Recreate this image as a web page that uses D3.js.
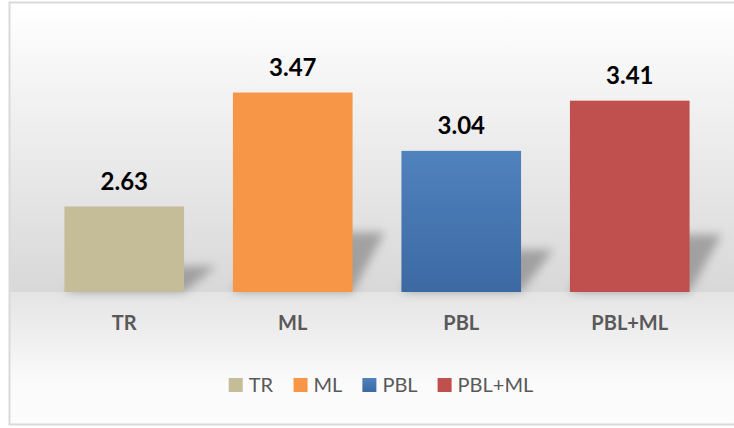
<!DOCTYPE html>
<html>
<head>
<meta charset="utf-8">
<script src="https://cdn.jsdelivr.net/npm/d3@7"></script>
<style>
  html, body { margin: 0; padding: 0; background: #ffffff; }
  svg { display: block; }
</style>
</head>
<body>
<svg id="chart" width="734" height="428"></svg>
<script>
// Chart data
const categories = ["TR", "ML", "PBL", "PBL+ML"];
const values = [2.63, 3.47, 3.04, 3.41];
const barColors = ["#c4bd97", "#f79646", "#4f81bd", "#c0504d"];
const valueDomain = [2, 4];

const W = 734, H = 428;
const baseY = 292;
const svg = d3.select("#chart");
const defs = svg.append("defs");

// Background gradients: plot area darkens downward, strip below is lighter
const gTop = defs.append("linearGradient").attr("id", "bgTop")
  .attr("x1", 0).attr("y1", 0).attr("x2", 0).attr("y2", 1);
gTop.append("stop").attr("offset", "0%").attr("stop-color", "#ffffff");
gTop.append("stop").attr("offset", "100%").attr("stop-color", "#d8d8d8");

const gBot = defs.append("linearGradient").attr("id", "bgBot")
  .attr("x1", 0).attr("y1", 0).attr("x2", 0).attr("y2", 1);
gBot.append("stop").attr("offset", "0%").attr("stop-color", "#e4e4e4");
gBot.append("stop").attr("offset", "70%").attr("stop-color", "#fbfbfb");
gBot.append("stop").attr("offset", "100%").attr("stop-color", "#fcfcfc");

// Blue bar has a subtle vertical gradient
const gBlue = defs.append("linearGradient").attr("id", "barBlue")
  .attr("x1", 0).attr("y1", 0).attr("x2", 0).attr("y2", 1);
gBlue.append("stop").attr("offset", "0%").attr("stop-color", "#5082be");
gBlue.append("stop").attr("offset", "100%").attr("stop-color", "#3c69a2");

const blur = defs.append("filter").attr("id", "shadowBlur")
  .attr("x", "-50%").attr("y", "-50%").attr("width", "200%").attr("height", "200%");
blur.append("feGaussianBlur").attr("stdDeviation", 5);

// Frame and backgrounds
svg.append("rect").attr("x", 10).attr("y", 3).attr("width", W).attr("height", baseY - 3)
  .attr("fill", "url(#bgTop)");
svg.append("rect").attr("x", 10).attr("y", baseY).attr("width", W).attr("height", 424 - baseY)
  .attr("fill", "url(#bgBot)");
svg.append("rect").attr("x", 9.5).attr("y", 2.5).attr("width", W + 10).attr("height", 422)
  .attr("fill", "none").attr("stroke", "#d9d9d9").attr("stroke-width", 2);

// Scales
const x = d3.scaleBand().domain(categories).range([40, 714])
  .paddingInner(0.29).paddingOuter(0.145);
const y = d3.scaleLinear().domain(valueDomain).range([baseY, 20.6]);

const data = categories.map((c, i) => ({ cat: c, value: values[i], color: barColors[i] }));

// Perspective shadows cast behind the bars
svg.append("g").selectAll("path").data(data).join("path")
  .attr("d", d => {
    const x0 = x(d.cat), x1 = x0 + x.bandwidth();
    const h = (baseY - y(d.value)) * 0.3;
    const dx = 32;
    return `M${x0},${baseY} L${x1},${baseY} L${x1 + dx},${baseY - h} L${x0 + dx},${baseY - h} Z`;
  })
  .attr("fill", "#6f6f6f").attr("opacity", 0.55)
  .attr("filter", "url(#shadowBlur)");

// Bars
svg.append("g").selectAll("rect").data(data).join("rect")
  .attr("x", d => x(d.cat))
  .attr("y", d => y(d.value))
  .attr("width", x.bandwidth())
  .attr("height", d => baseY - y(d.value))
  .attr("fill", d => d.cat === "PBL" ? "url(#barBlue)" : d.color);

// Value labels
svg.append("g").selectAll("text").data(data).join("text")
  .attr("x", d => x(d.cat) + x.bandwidth() / 2)
  .attr("y", d => y(d.value) - 17)
  .attr("text-anchor", "middle")
  .attr("font-family", "Lato, 'Open Sans', sans-serif")
  .attr("font-weight", "bold")
  .attr("font-size", 24)
  .attr("fill", "#000000")
  .text(d => d.value.toFixed(2));

// Category axis labels
const xAxis = d3.axisBottom(x).tickSize(0).tickPadding(0);
const axisG = svg.append("g").attr("transform", `translate(0,${baseY})`).call(xAxis);
axisG.select(".domain").remove();
axisG.selectAll("text")
  .attr("y", 38).attr("dy", 0)
  .attr("font-family", "Lato, 'Open Sans', sans-serif")
  .attr("font-weight", "bold")
  .attr("font-size", 20)
  .attr("fill", "#595959");

// Legend
const legend = svg.append("g");
const items = legend.selectAll("g").data(data).join("g");
items.append("rect").attr("width", 14).attr("height", 14).attr("y", -14)
  .attr("fill", d => d.cat === "PBL" ? "url(#barBlue)" : d.color);
items.append("text").attr("x", 20).attr("y", 0)
  .attr("font-family", "Lato, 'Open Sans', sans-serif")
  .attr("font-size", 20)
  .attr("fill", "#595959")
  .text(d => d.cat);
let cx = 0;
const gap = 20;
items.each(function () {
  const w = this.getBBox().width;
  d3.select(this).attr("transform", `translate(${cx},0)`);
  cx += w + gap;
});
const total = cx - gap;
legend.attr("transform", `translate(${381 - total / 2},392)`);
</script>
</body>
</html>
